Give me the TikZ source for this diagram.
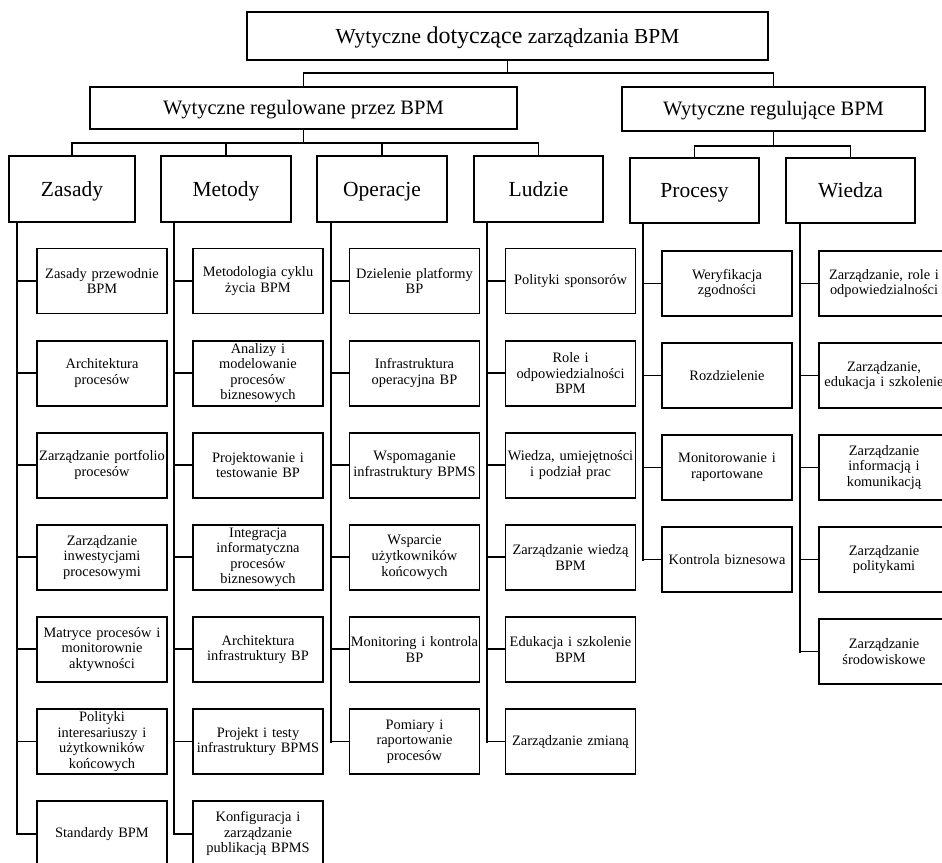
\documentclass[tikz,border=0pt]{standalone}
\usepackage{fontspec}
\setmainfont{Liberation Serif}
\usetikzlibrary{calc}
\begin{document}
\begin{tikzpicture}[x=1pt,y=-1pt,
  box/.style={draw,line width=1.9pt,inner sep=0pt,align=center},
  conn/.style={line width=1.9pt},
  spine/.style={line width=2.7pt,line cap=rect},
  leaf/.style={box,text width=130pt,minimum height=65pt,font=\fontsize{14.4}{15.6}\selectfont},
  cat/.style={box,minimum width=129pt,minimum height=66pt,text height=14.5pt,text depth=0pt,font=\fontsize{21.5}{24}\selectfont},
  lvltwo/.style={box,text height=13.8pt,text depth=0pt,font=\fontsize{20.5}{23}\selectfont},
]
\useasboundingbox (0,0) rectangle (942,862);

% level 1
\node[box,minimum width=521pt,minimum height=48pt,text height=15pt,text depth=0pt,font=\fontsize{21.4}{24}\selectfont] (root) at (507.5,36)
  {Wytyczne {\fontsize{24}{26}\selectfont dotyczące} zarządzania BPM};

% level 2
\node[lvltwo,minimum width=427pt,minimum height=42pt] (reg) at (303.5,108) {Wytyczne regulowane przez BPM};
\node[lvltwo,minimum width=303pt,minimum height=44pt] (rgl) at (773.5,109) {Wytyczne regulujące BPM};

\coordinate (b1) at (507.5,73);
\draw[conn] (root) -- (b1);
\draw[conn] (reg.north) |- (b1) -| (rgl.north);

% level 3
\node[cat,minimum width=126pt] (Zasady) at (72,189) {Zasady};
\node[cat,minimum width=130pt] (Metody) at (226,189) {Metody};
\node[cat,minimum width=130pt] (Operacje) at (382,189) {Operacje};
\node[cat] (Ludzie) at (538.5,189) {Ludzie};
\node[cat,minimum height=65pt] (Procesy) at (694.5,190.5) {Procesy};
\node[cat,minimum height=65pt] (Wiedza) at (850.5,190.5) {Wiedza};

\coordinate (b2) at (303.5,143);
\draw[conn] (reg) -- (b2);
\draw[conn] (Zasady.north) |- (b2) -| (Ludzie.north);
\draw[conn] (Metody.north) -- (Metody.north |- b2);
\draw[conn] (Operacje.north) -- (Operacje.north |- b2);

\coordinate (b3) at (773.5,146);
\draw[conn] (rgl) -- (b3);
\draw[conn] (Procesy.north) |- (b3) -| (Wiedza.north);

% spine x positions
\coordinate (sZ) at (17,0);
\coordinate (sM) at (174,0);
\coordinate (sO) at (331,0);
\coordinate (sL) at (487,0);
\coordinate (sP) at (643,0);
\coordinate (sW) at (800,0);

% Zasady
\foreach \t [count=\i] in {{Zasady przewodnie\\BPM},{Architektura\\procesów},{Zarządzanie portfolio\\procesów},{Zarządzanie\\inwestycjami\\procesowymi},{Matryce procesów i\\monitorownie\\aktywności},{Polityki\\interesariuszy i\\użytkowników\\końcowych},{Standardy BPM}}{
  \node[leaf] (z\i) at (102,{281+92.1*(\i-1)}) {\t};
  \draw[conn] (z\i.west) -- (sZ |- z\i.west);
}
\draw[spine] (sZ |- Zasady.south) -- (sZ |- z7.west);

% Metody
\foreach \t [count=\i] in {{Metodologia cyklu\\życia BPM},{Analizy i\\modelowanie\\procesów\\biznesowych},{Projektowanie i\\testowanie BP},{Integracja\\informatyczna\\procesów\\biznesowych},{Architektura\\infrastruktury BP},{Projekt i testy\\infrastruktury BPMS},{Konfiguracja i\\zarządzanie\\publikacją BPMS}}{
  \node[leaf] (m\i) at (258,{281+92.1*(\i-1)}) {\t};
  \draw[conn] (m\i.west) -- (sM |- m\i.west);
}
\draw[spine] (sM |- Metody.south) -- (sM |- m7.west);

% Operacje
\foreach \t [count=\i] in {{Dzielenie platformy\\BP},{Infrastruktura\\operacyjna BP},{Wspomaganie\\infrastruktury BPMS},{Wsparcie\\użytkowników\\końcowych},{Monitoring i kontrola\\BP},{Pomiary i\\raportowanie\\procesów}}{
  \node[leaf] (o\i) at (414.5,{281+92.1*(\i-1)}) {\t};
  \draw[conn] (o\i.west) -- (sO |- o\i.west);
}
\draw[spine] (sO |- Operacje.south) -- (sO |- o6.west);

% Ludzie
\foreach \t [count=\i] in {{Polityki sponsorów},{Role i\\odpowiedzialności\\BPM},{Wiedza, umiejętności\\i podział prac},{Zarządzanie wiedzą\\BPM},{Edukacja i szkolenie\\BPM},{Zarządzanie zmianą}}{
  \node[leaf] (l\i) at (570.5,{281+92.1*(\i-1)}) {\t};
  \draw[conn] (l\i.west) -- (sL |- l\i.west);
}
\draw[spine] (sL |- Ludzie.south) -- (sL |- l6.west);

% Procesy
\foreach \t [count=\i] in {{Weryfikacja\\zgodności},{Rozdzielenie},{Monitorowanie i\\raportowane},{Kontrola biznesowa}}{
  \node[leaf] (p\i) at (727,{283.5+92*(\i-1)}) {\t};
  \draw[conn] (p\i.west) -- (sP |- p\i.west);
}
\draw[spine] (sP |- Procesy.south) -- (sP |- p4.west);

% Wiedza
\foreach \t [count=\i] in {{Zarządzanie, role i\\odpowiedzialności},{Zarządzanie,\\edukacja i szkolenie},{Zarządzanie\\informacją i\\komunikacją},{Zarządzanie\\politykami},{Zarządzanie\\środowiskowe}}{
  \node[leaf] (w\i) at (884,{283.5+92*(\i-1)}) {\t};
  \draw[conn] (w\i.west) -- (sW |- w\i.west);
}
\draw[spine] (sW |- Wiedza.south) -- (sW |- w5.west);
\end{tikzpicture}
\end{document}
